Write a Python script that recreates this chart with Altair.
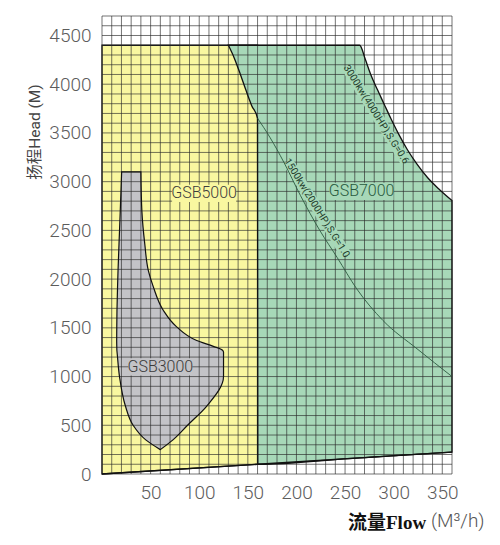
import altair as alt
import pandas as pd

# ---------------- data ----------------
X_GRID = list(range(0, 361, 10))
Y_GRID = list(range(0, 4701, 100))
X_TICKS = [50, 100, 150, 200, 250, 300, 350]
Y_TICKS = [0, 500, 1000, 1500, 2000, 2500, 3000, 3500, 4000, 4500]

# GSB5000 region (yellow)
Y5_X = [0, 160]
Y5_TOP = [4400, 4400]
Y5_BOT = [0, 100]

# GSB7000 region (green): x, upper edge, lower edge
G7_X = [130, 136, 142, 148, 154, 160, 160.3, 265, 271, 276, 283, 290, 297, 305, 314, 324, 335, 347, 360]
G7_TOP = [4400, 4400, 4400, 4400, 4400, 4400, 4400, 4400, 4250, 4110, 3950, 3800, 3650, 3490, 3330, 3180, 3040, 2920, 2806]
G7_BOT = [4400, 4270, 4110, 3940, 3780, 3650, 100, 166, 169, 172, 177, 181, 186, 191, 196, 203, 209, 217, 225]

# GSB3000 region (grey): head, left flow edge, right flow edge
GR_Y = [250, 350, 500, 700, 1000, 1250, 1270, 1310, 1370, 1510, 1680, 1920, 2090, 2360, 2700, 3100]
GR_L = [60, 45, 32, 24, 18, 15.5, 15.3, 15.2, 15.1, 15.2, 15.4, 16, 16.5, 17.5, 18.8, 20.2]
GR_R = [60, 73, 88, 108, 125, 125, 124, 114.5, 97.4, 76.8, 63, 52.8, 47.6, 44, 41, 40]

# 1500kW power line
P1500_X = [160, 173, 187, 204, 224, 242, 262, 289, 324, 360]
P1500_Y = [3650, 3450, 3200, 2860, 2500, 2220, 1900, 1575, 1285, 1000]

# base line
BASE_X = [0, 360]
BASE_Y = [0, 225]

REGION_NAMES = ["GSB5000", "GSB7000", "GSB3000"]
REGION_X = [105, 267, 60]
REGION_Y = [2880, 2900, 1100]

CURVE_LABELS = ["3000kw(4000HP),S.G=0.6", "1500kw(2000HP),S.G=1.0"]
CURVE_LX = [282, 221]
CURVE_LY = [3690, 2729]
CURVE_ANGLE = [58, 58]

# ---------------- styles ----------------
YELLOW = "#f9f7a0"
GREEN = "#a7d8b8"
GRAY = "#c3c3c7"
FONT = "Roboto, sans-serif"

xaxis = alt.Axis(values=X_TICKS, grid=False, ticks=False, domain=False, labelFont=FONT,
                 labelFontSize=19, labelFontWeight=300, labelColor="#5c5c5c", labelPadding=9,
                 title=None, labelOverlap=False, labelFlush=False, format="d")
yaxis = alt.Axis(values=Y_TICKS, grid=False, ticks=False, domain=False, labelFont=FONT,
                 labelFontSize=19, labelFontWeight=300, labelColor="#5c5c5c", labelPadding=11,
                 title=None, labelOverlap=False, labelFlush=False, format="d")
xs = alt.Scale(domain=[0, 360], nice=False, zero=False)
ys = alt.Scale(domain=[0, 4700], nice=False, zero=False)


def X(f="x"):
    return alt.X(f"{f}:Q", scale=xs, axis=xaxis)


def Y(f="y"):
    return alt.Y(f"{f}:Q", scale=ys, axis=yaxis)


df_y5 = pd.DataFrame({"x": Y5_X, "y": Y5_TOP, "y2": Y5_BOT})
df_g7 = pd.DataFrame({"x": G7_X, "y": G7_TOP, "y2": G7_BOT})
df_gr = pd.DataFrame({"y": GR_Y, "x": GR_L, "x2": GR_R})
df_p15 = pd.DataFrame({"x": P1500_X, "y": P1500_Y})
df_base = pd.DataFrame({"x": BASE_X, "y": BASE_Y})
df_vg = pd.DataFrame({"x": X_GRID})
df_hg = pd.DataFrame({"y": Y_GRID})
df_reg = pd.DataFrame({"x": REGION_X, "y": REGION_Y, "t": REGION_NAMES,
                       "bg": [YELLOW, GREEN, GRAY], "c": ["#3c3c3c", "#285a3e", "#3a3a3a"]})
df_cur = pd.DataFrame({"x": CURVE_LX, "y": CURVE_LY, "t": CURVE_LABELS, "a": CURVE_ANGLE})

yellow = alt.Chart(df_y5).mark_area(color=YELLOW, opacity=1, stroke="#111", strokeWidth=1.3).encode(
    x=X(), y=Y(), y2="y2:Q")
green_fill = alt.Chart(df_g7).mark_area(color=GREEN, opacity=1, interpolate="monotone").encode(
    x=X(), y=Y(), y2="y2:Q")
gray_fill = alt.Chart(df_gr).mark_area(color=GRAY, opacity=1, orient="horizontal",
                                       interpolate="monotone").encode(
    y=Y(), x=X(), x2="x2:Q")

vgrid = alt.Chart(df_vg).mark_rule(color="#2a2a2a", opacity=0.65, strokeWidth=1).encode(x=X())
hgrid = alt.Chart(df_hg).mark_rule(color="#2a2a2a", opacity=0.65, strokeWidth=1).encode(y=Y())

reg_box = alt.Chart(df_reg).mark_point(
    shape="M-1,-0.27L1,-0.27L1,0.27L-1,0.27Z", filled=True, size=4096, opacity=1, strokeWidth=0
).encode(x=X(), y=Y(), color=alt.Color("bg:N", scale=None))
cur_box = alt.Chart(df_cur).mark_point(
    shape="M-1,-0.1L1,-0.1L1,0.1L-1,0.1Z", filled=True, size=12100, opacity=1, strokeWidth=0,
    color=GREEN
).encode(x=X(), y=Y(), angle=alt.Angle("a:Q", scale=None))

green_line = alt.Chart(df_g7).mark_area(fillOpacity=0, stroke="#111", strokeWidth=1.3,
                                        interpolate="monotone").encode(
    x=X(), y=Y(), y2="y2:Q")
gray_line = alt.Chart(df_gr).mark_area(fillOpacity=0, stroke="#111", strokeWidth=1.2,
                                       orient="horizontal", interpolate="monotone").encode(
    y=Y(), x=X(), x2="x2:Q")
p15 = alt.Chart(df_p15).mark_line(color="#2c5a40", strokeWidth=0.9, interpolate="monotone").encode(
    x=X(), y=Y())
base = alt.Chart(df_base).mark_line(color="#111", strokeWidth=1.3).encode(x=X(), y=Y())

reg_txt = alt.Chart(df_reg).mark_text(font=FONT, fontSize=16, fontWeight=300, align="center",
                                      baseline="middle").encode(
    x=X(), y=Y(), text="t:N", color=alt.Color("c:N", scale=None))
cur_txt = alt.Chart(df_cur).mark_text(font=FONT, fontSize=10, align="center", baseline="middle",
                                      color="#1f3d2c").encode(
    x=X(), y=Y(), text="t:N", angle=alt.Angle("a:Q", scale=None))

t1 = alt.Chart(pd.DataFrame({"t": ["流量Flow"]})).mark_text(
    font="Liberation Serif, Noto Sans CJK SC", fontWeight="bold", fontSize=19, align="left",
    baseline="middle", color="#111").encode(x=alt.value(246), y=alt.value(507), text="t:N")
t2 = alt.Chart(pd.DataFrame({"t": ["(M³/h)"]})).mark_text(
    font=FONT, fontSize=19, fontWeight=300, align="left", baseline="middle", color="#555").encode(
    x=alt.value(329), y=alt.value(505), text="t:N")
t3 = alt.Chart(pd.DataFrame({"t": ["扬程Head (M)"]})).mark_text(
    font="Roboto, Noto Sans CJK SC", fontSize=15.5, align="center", baseline="middle",
    color="#444", angle=270).encode(x=alt.value(-67), y=alt.value(116), text="t:N")

chart = alt.layer(
    yellow, green_fill, gray_fill, vgrid, hgrid, reg_box, cur_box,
    green_line, gray_line, p15, base, reg_txt, cur_txt, t1, t2, t3
).properties(
    width=350, height=458,
    autosize=alt.AutoSizeParams(type="none"),
    padding={"left": 94, "top": 8, "right": 40, "bottom": 63},
).configure_view(strokeWidth=0)

chart.save("out.html", embed_options={"renderer": "svg", "actions": False})
